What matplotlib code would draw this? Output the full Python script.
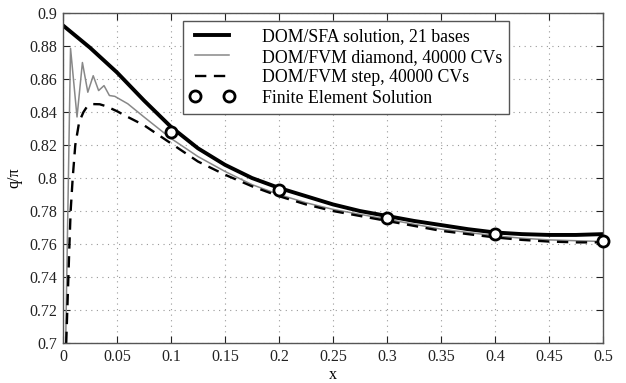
import numpy as np
import matplotlib.pyplot as plt

plt.rcParams['font.family'] = ['Liberation Serif', 'DejaVu Serif']

# DOM/SFA solution, 21 bases
x_sfa = [0.0, 0.025, 0.05, 0.075, 0.1, 0.125, 0.15, 0.175, 0.2, 0.225, 0.25, 0.275,
         0.3, 0.325, 0.35, 0.375, 0.4, 0.425, 0.45, 0.475, 0.5]
q_sfa = [0.8925, 0.879, 0.864, 0.847, 0.831, 0.818, 0.808, 0.800, 0.794, 0.789,
         0.784, 0.780, 0.777, 0.774, 0.7715, 0.769, 0.767, 0.766, 0.7655, 0.7655,
         0.766]

# DOM/FVM diamond, 40000 CVs
x_dia = [0.0025, 0.007, 0.013, 0.018, 0.023, 0.028, 0.033, 0.038, 0.043, 0.048,
         0.06, 0.075, 0.1, 0.125, 0.15, 0.175, 0.2, 0.225, 0.25, 0.275, 0.3, 0.325,
         0.35, 0.375, 0.4, 0.425, 0.45, 0.475, 0.5]
q_dia = [0.700, 0.8786, 0.837, 0.870, 0.852, 0.862, 0.853, 0.856, 0.850, 0.8495,
         0.845, 0.837, 0.824, 0.813, 0.804, 0.796, 0.790, 0.785, 0.781, 0.778,
         0.775, 0.772, 0.769, 0.767, 0.765, 0.7635, 0.7625, 0.762, 0.7615]

# DOM/FVM step, 40000 CVs
x_step = [0.003, 0.004, 0.005, 0.006, 0.0071, 0.009, 0.0114, 0.015, 0.019, 0.022,
          0.028, 0.034, 0.04, 0.05, 0.06, 0.075, 0.1, 0.125, 0.15, 0.175, 0.2,
          0.225, 0.25, 0.275, 0.3, 0.325, 0.35, 0.375, 0.4, 0.425, 0.45, 0.475, 0.5]
q_step = [0.700, 0.720, 0.740, 0.760, 0.780, 0.800, 0.820, 0.834, 0.840, 0.843,
          0.8448, 0.8447, 0.8435, 0.8405, 0.837, 0.832, 0.821, 0.810, 0.802, 0.795,
          0.789, 0.784, 0.780, 0.777, 0.774, 0.771, 0.768, 0.766, 0.764, 0.7625,
          0.7615, 0.761, 0.761]

# Finite element solution
x_fe = [0.1, 0.2, 0.3, 0.4, 0.5]
q_fe = [0.828, 0.7927, 0.776, 0.7659, 0.762]

fig = plt.figure(figsize=(6.26, 3.83), dpi=100)
ax = fig.add_axes([0.1006, 0.1044, 0.8626, 0.8616])

ax.plot(x_sfa, q_sfa, color='black', lw=2.8, label='DOM/SFA solution, 21 bases')
ax.plot(x_dia, q_dia, color='#888888', lw=1.1, label='DOM/FVM diamond, 40000 CVs')
ax.plot(x_step, q_step, color='black', lw=1.7, ls=(0, (4.8, 3.2)),
        label='DOM/FVM step, 40000 CVs')
ax.plot(x_fe, q_fe, ls='none', marker='o', ms=8, mfc='white', mec='black', mew=2,
        label='Finite Element Solution', clip_on=False, zorder=5)

ax.set_xlim(0, 0.5)
ax.set_ylim(0.7, 0.9)
ax.set_xticks(np.arange(0, 0.501, 0.05))
ax.set_yticks(np.arange(0.7, 0.901, 0.02))
ax.set_xticklabels(['0', '0.05', '0.1', '0.15', '0.2', '0.25', '0.3', '0.35', '0.4', '0.45', '0.5'])
ax.set_yticklabels(['0.7', '0.72', '0.74', '0.76', '0.78', '0.8', '0.82', '0.84', '0.86', '0.88', '0.9'])
ax.tick_params(direction='in', top=True, right=True, length=5, width=0.8,
               labelsize=11.5, colors='#222222', pad=4)
ax.grid(True, color='#999999', ls=(0, (1, 4)), lw=0.8)
for s in ax.spines.values():
    s.set_color('#555555')
    s.set_linewidth(1.0)

ax.set_xlabel('x', fontsize=11.5, labelpad=2)
ax.set_ylabel('q/\u03c0', fontsize=11.5, labelpad=5)

leg = ax.legend(loc='upper left', bbox_to_anchor=(0.222, 0.976), fontsize=12.8,
                numpoints=2, handlelength=2.5, handletextpad=1.55, borderpad=0.4,
                labelspacing=0.2, borderaxespad=0, frameon=True, fancybox=False,
                framealpha=1)
leg.get_frame().set_edgecolor('#555555')
leg.get_frame().set_linewidth(1.0)

fig.savefig('out.png', dpi=100)
